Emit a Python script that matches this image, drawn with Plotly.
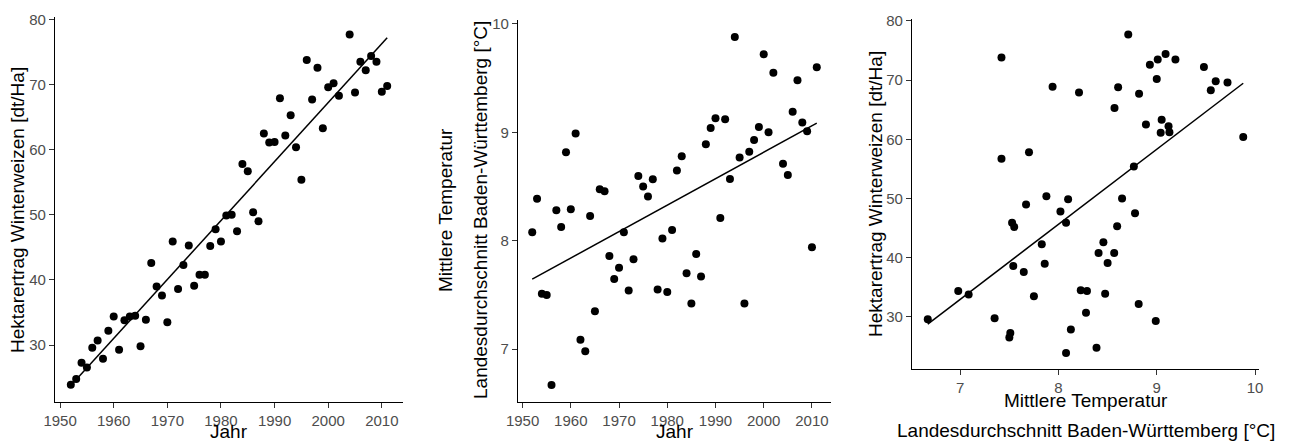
import numpy as np
import plotly.graph_objects as go

# ---- data ----
years = [1952, 1953, 1954, 1955, 1956, 1957, 1958, 1959, 1960, 1961,
         1962, 1963, 1964, 1965, 1966, 1967, 1968, 1969, 1970, 1971,
         1972, 1973, 1974, 1975, 1976, 1977, 1978, 1979, 1980, 1981,
         1982, 1983, 1984, 1985, 1986, 1987, 1988, 1989, 1990, 1991,
         1992, 1993, 1994, 1995, 1996, 1997, 1998, 1999, 2000, 2001,
         2002, 2004, 2005, 2006, 2007, 2008, 2009, 2010, 2011]

yield_dt_ha = [23.9, 24.8, 27.3, 26.55, 29.6, 30.7, 27.9, 32.2, 34.4, 29.3,
               33.8, 34.4, 34.5, 29.8, 33.9, 42.6, 39.0, 37.6, 33.5, 45.9,
               38.6, 42.3, 45.3, 39.1, 40.8, 40.8, 45.2, 47.8, 45.9, 49.9,
               50.0, 47.5, 57.8, 56.7, 50.4, 49.0, 62.5, 61.1, 61.2, 67.9,
               62.2, 65.3, 60.4, 55.4, 73.8, 67.7, 72.6, 63.3, 69.6, 70.2,
               68.3, 77.7, 68.8, 73.5, 72.2, 74.4, 73.5, 68.9, 69.8]

temperature = [8.077, 8.387, 7.51, 7.50, 6.67, 8.28, 8.126, 8.816, 8.29, 8.99,
               7.086, 6.98, 8.227, 7.35, 8.475, 8.457, 7.86, 7.647, 7.75, 8.077,
               7.54, 7.83, 8.597, 8.50, 8.408, 8.567, 7.55, 8.02, 7.528, 8.098,
               8.647, 8.779, 7.70, 7.42, 7.877, 7.67, 8.89, 9.04, 9.129, 8.209,
               9.12, 8.57, 9.88, 8.767, 7.42, 8.82, 8.93, 9.05, 9.72, 9.00,
               9.55, 8.71, 8.607, 9.19, 9.48, 9.09, 9.01, 7.94, 9.60]

year_ticks = [1950, 1960, 1970, 1980, 1990, 2000, 2010]
yield_ticks = [30, 40, 50, 60, 70, 80]
temp_ticks = [7, 8, 9, 10]

title_yield = "Hektarertrag Winterweizen [dt/Ha]"
title_year = "Jahr"
title_temp1 = "Mittlere Temperatur"
title_temp2 = "Landesdurchschnitt Baden-Württemberg [°C]"

# ---- figure ----
W, H = 1289, 442
FONT = "Liberation Sans, Arial, sans-serif"


def xdom(a, b):
    return [a / W, b / W]


def ydom(top, bottom):
    return [1 - bottom / H, 1 - top / H]


def expand(vals, f=0.05):
    lo, hi = min(vals), max(vals)
    d = (hi - lo) * f
    return [lo - d, hi + d]


def fit_line(x, y):
    x = np.asarray(x, float)
    y = np.asarray(y, float)
    k, c = np.polyfit(x, y, 1)
    xs = np.array([x.min(), x.max()])
    return xs, k * xs + c


fig = go.Figure()

panels = [
    (years, yield_dt_ha, "x", "y"),
    (years, temperature, "x2", "y2"),
    (temperature, yield_dt_ha, "x3", "y3"),
]
for xv, yv, xa, ya in panels:
    fig.add_trace(go.Scatter(x=xv, y=yv, mode="markers", xaxis=xa, yaxis=ya,
                             marker=dict(color="black", size=8, line=dict(width=0)),
                             showlegend=False, hoverinfo="skip"))
    lx, ly = fit_line(xv, yv)
    fig.add_trace(go.Scatter(x=lx, y=ly, mode="lines", xaxis=xa, yaxis=ya,
                             line=dict(color="black", width=1.5),
                             showlegend=False, hoverinfo="skip"))

axis_common = dict(showline=True, linecolor="black", linewidth=1.1,
                   ticks="outside", ticklen=5, tickwidth=1, tickcolor="#333333",
                   showgrid=False, zeroline=False, automargin=False,
                   tickfont=dict(family=FONT, size=15, color="#4d4d4d"))

fig.update_layout(
    width=W, height=H, autosize=False,
    margin=dict(l=0, r=0, t=0, b=0, pad=0),
    paper_bgcolor="white", plot_bgcolor="white",
    font=dict(family=FONT),
    xaxis=dict(domain=xdom(55, 403), range=expand(years), tickvals=year_ticks,
               anchor="y", **axis_common),
    yaxis=dict(domain=ydom(17, 402.3), range=expand(yield_dt_ha), tickvals=yield_ticks,
               anchor="x", **axis_common),
    xaxis2=dict(domain=xdom(518, 831), range=expand(years), tickvals=year_ticks,
                anchor="y2", **axis_common),
    yaxis2=dict(domain=ydom(19.5, 402.3), range=expand(temperature), tickvals=temp_ticks,
                anchor="x2", **axis_common),
    xaxis3=dict(domain=xdom(912, 1259), range=expand(temperature), tickvals=temp_ticks,
                anchor="y3", **axis_common),
    yaxis3=dict(domain=ydom(18.6, 369), range=expand(yield_dt_ha), tickvals=yield_ticks,
                anchor="x3", **axis_common),
)


def ann(text, px, py, angle=0, size=19):
    fig.add_annotation(text=text, xref="paper", yref="paper",
                       x=px / W, y=1 - py / H, xanchor="center", yanchor="middle",
                       textangle=angle, showarrow=False,
                       font=dict(family=FONT, size=size, color="black"))


ann(title_yield, 17, 210, -90)
ann(title_year, 229, 431)
ann(title_year, 674.5, 431)
ann(title_temp1, 445, 210, -90)
ann(title_temp2, 480, 210, -90)
ann(title_yield, 875, 194, -90)
ann(title_temp1, 1085.5, 400)
ann(title_temp2, 1085.5, 430)

fig.write_html("out.html")
